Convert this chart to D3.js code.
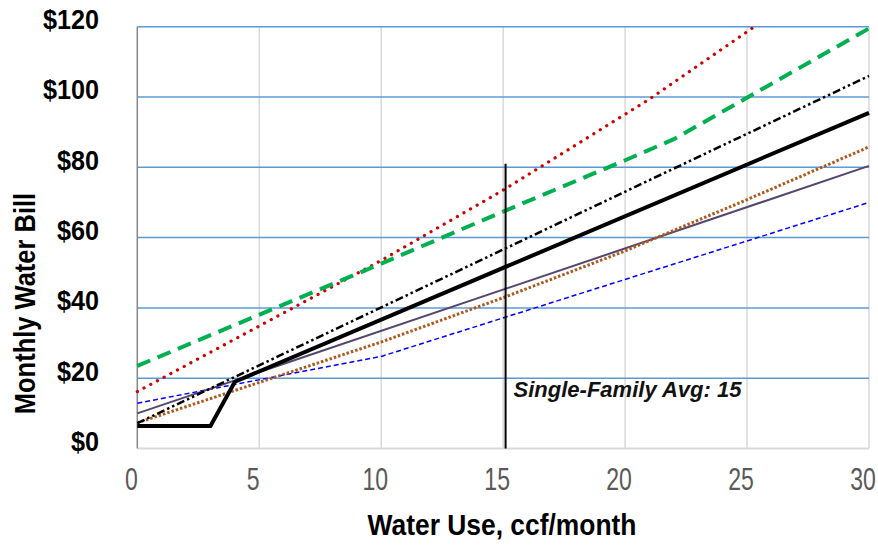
<!DOCTYPE html>
<html><head><meta charset="utf-8">
<script src="https://cdn.jsdelivr.net/npm/d3@7/dist/d3.min.js"></script>
<style>body{margin:0;background:#fff}svg{display:block}</style>
</head><body><svg id="chart" width="878" height="545"></svg>
<script>
// ---- data ----
const xTicks = [0, 5, 10, 15, 20, 25, 30];
const yTicks = [0, 20, 40, 60, 80, 100, 120];
const xTickLabels = ["0", "5", "10", "15", "20", "25", "30"];
const yTickLabels = ["$0", "$20", "$40", "$60", "$80", "$100", "$120"];

const greenX = [0, 10, 15, 20, 22, 30];
const greenY = [23.5, 52.6, 67.4, 82, 88, 119.5];
const redX = [0, 10, 15, 21, 25.3];
const redY = [16.2, 53.5, 73.5, 99.4, 120];
const dashDotX = [0, 30];
const dashDotY = [7.2, 106];
const purpleX = [0, 30];
const purpleY = [10, 80.4];
const brownX = [0, 5, 10, 15, 20, 25, 30];
const brownY = [7.3, 18.8, 30.3, 42.9, 56.2, 70.8, 85.8];
const blueX = [0, 10, 30];
const blueY = [12.9, 26.2, 70];
const currentX = [0, 3, 4, 30];
const currentY = [6.4, 6.4, 19, 95.5];

const avgUse = 15.1;
const avgLineTop = 81;
const avgLabel = "Single-Family Avg: 15";
const xTitle = "Water Use, ccf/month";
const yTitle = "Monthly Water Bill";

// ---- layout ----
const svg = d3.select("#chart");
const x = d3.scaleLinear().domain([0, 30]).range([137.3, 869]);
const y = d3.scaleLinear().domain([0, 120]).range([448.5, 26.7]);
const font = "'Liberation Sans',Arial,sans-serif";

// vertical gridlines
svg.append("g").selectAll("line").data(xTicks.filter(d => d > 0)).join("line")
  .attr("x1", d => x(d)).attr("x2", d => x(d))
  .attr("y1", y(120)).attr("y2", y(0))
  .attr("stroke", "#d9d9d9").attr("stroke-width", 1.5);
// horizontal gridlines
svg.append("g").selectAll("line").data(yTicks.filter(d => d > 0)).join("line")
  .attr("x1", x(0)).attr("x2", x(30))
  .attr("y1", d => y(d)).attr("y2", d => y(d))
  .attr("stroke", "#5b9bd5").attr("stroke-width", 1.5);
// axes lines
svg.append("line").attr("x1", x(0)).attr("x2", x(30)).attr("y1", y(0)).attr("y2", y(0))
  .attr("stroke", "#d9d9d9").attr("stroke-width", 2);
svg.append("line").attr("x1", x(0)).attr("x2", x(0)).attr("y1", y(120)).attr("y2", y(0))
  .attr("stroke", "#868686").attr("stroke-width", 1.5);

// tick labels (condensed horizontally to mimic a narrow face)
svg.append("g").selectAll("text").data(yTicks).join("text")
  .attr("transform", d => `translate(99,${y(d) - 7}) scale(0.9,1)`)
  .attr("text-anchor", "end").attr("dominant-baseline", "central")
  .attr("font-family", font).attr("font-weight", "bold").attr("font-size", 28)
  .attr("fill", "#000").text((d, i) => yTickLabels[i]);
svg.append("g").selectAll("text").data(xTicks).join("text")
  .attr("transform", d => `translate(${x(d) - 6},479) scale(0.72,1)`)
  .attr("text-anchor", "middle").attr("dominant-baseline", "central")
  .attr("font-family", font).attr("font-size", 32)
  .attr("fill", "#595959").text((d, i) => xTickLabels[i]);

// axis titles
svg.append("text").attr("transform", "translate(502,535) scale(0.88,1)").attr("text-anchor", "middle")
  .attr("font-family", font).attr("font-weight", "bold").attr("font-size", 30)
  .attr("fill", "#000").text(xTitle);
svg.append("text").attr("transform", "translate(35,303.5) rotate(-90) scale(0.85,1)").attr("text-anchor", "middle")
  .attr("font-family", font).attr("font-weight", "bold").attr("font-size", 30)
  .attr("fill", "#000").text(yTitle);

// series
const line = d3.line().x(d => x(d[0])).y(d => y(d[1]));
const zip = (xs, ys) => xs.map((v, i) => [v, ys[i]]);
const series = [
  {pts: zip(blueX, blueY), color: "#0000ff", w: 1.5, dash: "5,3", cap: "butt"},
  {pts: zip(purpleX, purpleY), color: "#54466e", w: 2, dash: null, cap: "butt"},
  {pts: zip(brownX, brownY), color: "#b0581c", w: 3, dash: "2.5,2", cap: "butt"},
  {pts: zip(dashDotX, dashDotY), color: "#000000", w: 2.5, dash: "8,3,2.5,3,2.5,3", cap: "butt"},
  {pts: zip(redX, redY), color: "#d00000", w: 3.2, dash: "0.1,7.5", cap: "round"},
  {pts: zip(greenX, greenY), color: "#00b050", w: 4, dash: "14,8", cap: "butt"},
  {pts: zip(currentX, currentY), color: "#000000", w: 4, dash: null, cap: "butt"}
];
svg.append("g").selectAll("path").data(series).join("path")
  .attr("d", d => line(d.pts)).attr("fill", "none")
  .attr("stroke", d => d.color).attr("stroke-width", d => d.w)
  .attr("stroke-dasharray", d => d.dash).attr("stroke-linecap", d => d.cap)
  .attr("stroke-linejoin", "miter");

// average use marker
svg.append("line").attr("x1", x(avgUse)).attr("x2", x(avgUse))
  .attr("y1", y(0)).attr("y2", y(avgLineTop))
  .attr("stroke", "#000").attr("stroke-width", 2);
svg.append("text").attr("x", x(avgUse) + 8).attr("y", 397.3)
  .attr("font-family", font).attr("font-style", "italic").attr("font-weight", "bold")
  .attr("font-size", 22).attr("fill", "#111").text(avgLabel);
</script></body></html>
